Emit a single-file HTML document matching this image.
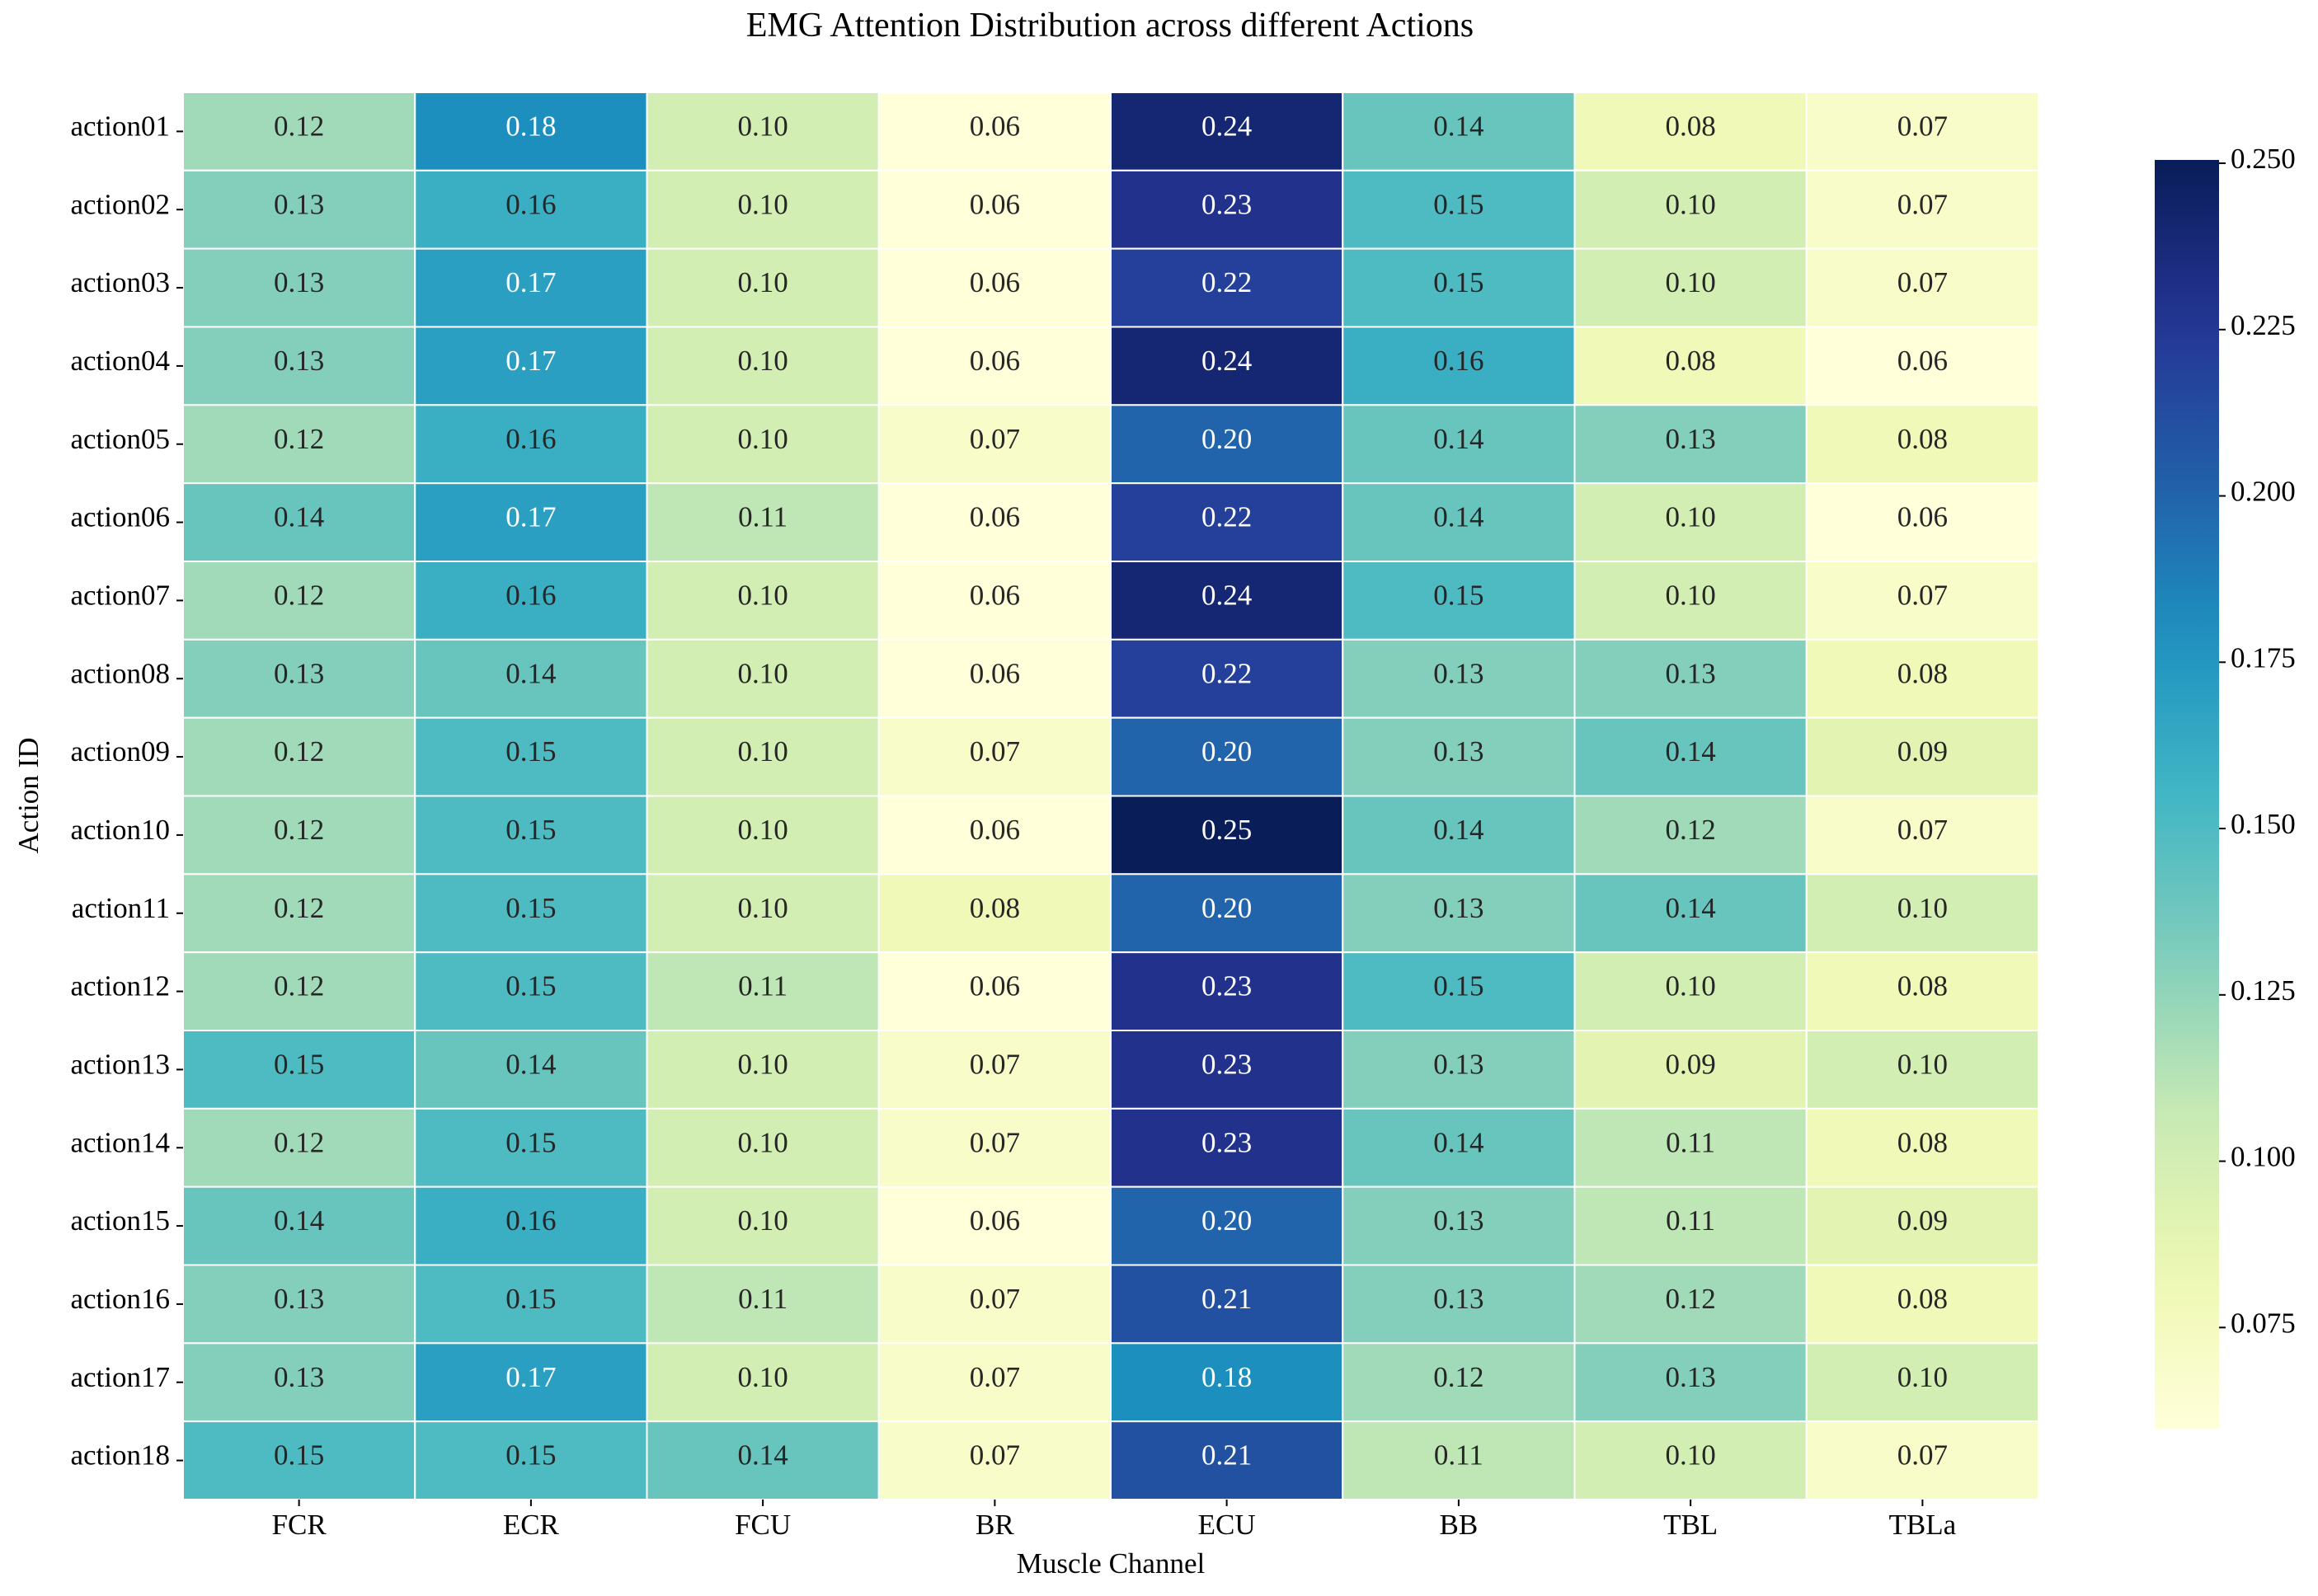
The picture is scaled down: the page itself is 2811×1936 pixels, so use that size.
<!DOCTYPE html>
<html><head><meta charset="utf-8"><style>
html,body{margin:0;padding:0;background:#fff;}
svg text{font-family:"Liberation Serif",serif;fill:#000;}
</style></head><body>
<svg id="chart" width="2811" height="1931" xmlns="http://www.w3.org/2000/svg">
<defs><linearGradient id="cbg" x1="0" y1="1" x2="0" y2="0"></linearGradient></defs>
<text x="1346" y="44" font-size="42" text-anchor="middle">EMG Attention Distribution across different Actions</text>
<g id="cells"></g>
<g id="yaxis"></g>
<g id="xaxis"></g>
<text x="1347" y="1908" font-size="35" text-anchor="middle">Muscle Channel</text>
<text transform="translate(46,965) rotate(-90)" font-size="35" text-anchor="middle">Action ID</text>
<g id="cbar"></g>
</svg>
<script>
const muscles = ["FCR","ECR","FCU","BR","ECU","BB","TBL","TBLa"];
const actions = ["action01","action02","action03","action04","action05","action06","action07","action08","action09","action10","action11","action12","action13","action14","action15","action16","action17","action18"];
const values = [
[0.12,0.18,0.10,0.06,0.24,0.14,0.08,0.07],
[0.13,0.16,0.10,0.06,0.23,0.15,0.10,0.07],
[0.13,0.17,0.10,0.06,0.22,0.15,0.10,0.07],
[0.13,0.17,0.10,0.06,0.24,0.16,0.08,0.06],
[0.12,0.16,0.10,0.07,0.20,0.14,0.13,0.08],
[0.14,0.17,0.11,0.06,0.22,0.14,0.10,0.06],
[0.12,0.16,0.10,0.06,0.24,0.15,0.10,0.07],
[0.13,0.14,0.10,0.06,0.22,0.13,0.13,0.08],
[0.12,0.15,0.10,0.07,0.20,0.13,0.14,0.09],
[0.12,0.15,0.10,0.06,0.25,0.14,0.12,0.07],
[0.12,0.15,0.10,0.08,0.20,0.13,0.14,0.10],
[0.12,0.15,0.11,0.06,0.23,0.15,0.10,0.08],
[0.15,0.14,0.10,0.07,0.23,0.13,0.09,0.10],
[0.12,0.15,0.10,0.07,0.23,0.14,0.11,0.08],
[0.14,0.16,0.10,0.06,0.20,0.13,0.11,0.09],
[0.13,0.15,0.11,0.07,0.21,0.13,0.12,0.08],
[0.13,0.17,0.10,0.07,0.18,0.12,0.13,0.10],
[0.15,0.15,0.14,0.07,0.21,0.11,0.10,0.07]];
const cbTicks = [0.075,0.100,0.125,0.150,0.175,0.200,0.225,0.250];
const vmin = 0.0598, vmax = 0.2505;
const stops = ["#ffffd9","#edf8b1","#c7e9b4","#7fcdbb","#41b6c4","#1d91c0","#225ea8","#253494","#081d58"];
function hex(h){return [1,3,5].map(i=>parseInt(h.substr(i,2),16));}
function cmap(t){t=Math.max(0,Math.min(1,t));const p=t*(stops.length-1);const i=Math.min(stops.length-2,Math.floor(p));const f=p-i;const a=hex(stops[i]),b=hex(stops[i+1]);return "rgb("+a.map((v,k)=>Math.round(v+(b[k]-v)*f)).join(",")+")";}
const L=222,R=2472,T=112,B=1819;
const cw=(R-L)/muscles.length, ch=(B-T)/actions.length;
const xs=j=>L+j*cw, ys=i=>T+i*ch;
const NS="http://www.w3.org/2000/svg";
function mk(tag,attrs,parent){const e=document.createElementNS(NS,tag);for(const k in attrs)e.setAttribute(k,attrs[k]);parent.appendChild(e);return e;}
const cells=document.getElementById('cells');
values.forEach((row,i)=>row.forEach((v,j)=>{
  const t=(v-vmin)/(vmax-vmin);
  const r=mk('rect',{x:xs(j),y:ys(i),width:cw,height:ch,fill:cmap(t),stroke:"#fff","stroke-width":2},cells);
  
  
  const tx=mk('text',{x:xs(j)+cw/2,y:ys(i)+ch/2+5,"font-size":35,"text-anchor":"middle"},cells);
  tx.style.fill = t>0.55?"#fff":"#262626";
  tx.textContent=v.toFixed(2);
  
  
}));
const ya=document.getElementById('yaxis');
actions.forEach((a,i)=>{
  const y=ys(i)+ch/2;
  const ln=mk('line',{x1:L-8,x2:L,y1:y,y2:y,stroke:"#000","stroke-width":2},ya);
  
  
  const t=mk('text',{x:L-16,y:y+5,"font-size":35,"text-anchor":"end"},ya);
  t.textContent=a;
  
  
});
const xa=document.getElementById('xaxis');
muscles.forEach((m,j)=>{
  const x=xs(j)+cw/2;
  const ln=mk('line',{x1:x,x2:x,y1:B,y2:B+8,stroke:"#000","stroke-width":2},xa);
  
  
  const t=mk('text',{x:x,y:B+42,"font-size":35,"text-anchor":"middle"},xa);
  t.textContent=m;
  
  
});
const grad=document.getElementById('cbg');
for(let k=0;k<=20;k++){mk('stop',{offset:(k/20),"stop-color":cmap(k/20)},grad);}
const CL=2613,CR=2691,CT=194,CB=1733;
const cb=document.getElementById('cbar');
const cr=mk('rect',{x:CL,y:CT,width:CR-CL,height:CB-CT,fill:"url(#cbg)"},cb);


const cy=v=>CB-(v-vmin)/(vmax-vmin)*(CB-CT);
cbTicks.forEach(v=>{
  const y=cy(v);
  const ln=mk('line',{x1:CR,x2:CR+8,y1:y,y2:y,stroke:"#000","stroke-width":2},cb);
  
  
  const t=mk('text',{x:CR+14,y:y+6,"font-size":35},cb);
  t.textContent=v.toFixed(3);
  
  
});
</script>
</body></html>
